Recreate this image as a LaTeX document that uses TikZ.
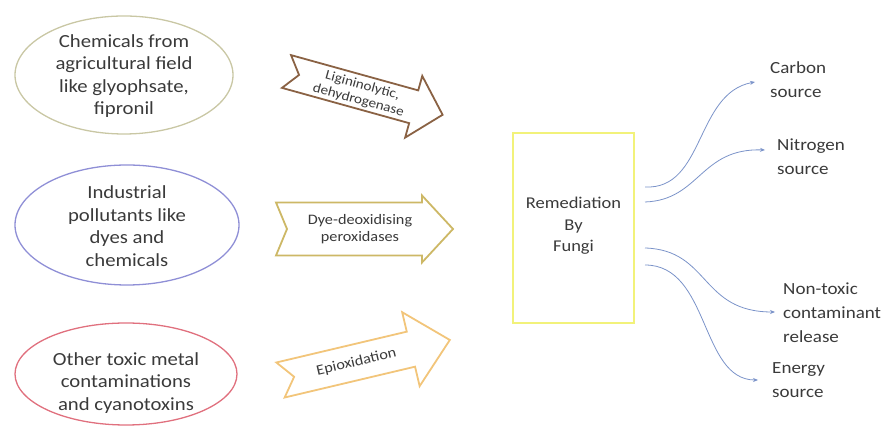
\documentclass[tikz,border=0pt]{standalone}
\usepackage{fontspec}
\setmainfont{Carlito}[FakeStretch=1.12]
\usetikzlibrary{shapes.geometric,arrows.meta,calc}

\definecolor{inkgray}{HTML}{3A3A3A}
\definecolor{khakiline}{HTML}{C9C7A4}
\definecolor{violetline}{HTML}{8F8FD6}
\definecolor{roseline}{HTML}{E0707E}
\definecolor{brownarrow}{HTML}{8A6244}
\definecolor{goldarrow}{HTML}{CDB866}
\definecolor{orangearrow}{HTML}{F2C57A}
\definecolor{yellowbox}{HTML}{F2F27A}
\definecolor{flowblue}{HTML}{7B93C9}

\tikzset{
  source/.style={ellipse, draw, line width=1.3pt, inner sep=0pt},
  sourcetext/.style={text=inkgray, align=center, font=\fontsize{18.5}{22.5}\selectfont},
  blockarrow/.style={line width=1.8pt, fill=white, line join=miter},
  enzymetext/.style={text=inkgray, align=center, font=\fontsize{14.5}{17}\selectfont},
  fungibox/.style={draw=yellowbox, line width=2.4pt, minimum width=121pt, minimum height=190pt},
  boxtext/.style={text=inkgray, align=center, font=\fontsize{16.5}{21.5}\selectfont},
  outcome/.style={text=inkgray, align=left, anchor=west, inner sep=0pt, font=\fontsize{17}{24}\selectfont},
  flow/.style={draw=flowblue, line width=0.8pt, -{Stealth[length=5pt,width=4pt]}}
}

\begin{document}
\begin{tikzpicture}[x=1pt,y=1pt]
\useasboundingbox (0,0) rectangle (885,438);

% pollutant sources
\node[source, draw=khakiline, minimum width=218pt, minimum height=118pt] (agri) at (124,363) {};
\node[sourcetext] (agritext) at (124,362) {Chemicals from\\agricultural field\\like glyophsate,\\fipronil};

\node[source, draw=violetline, minimum width=224pt, minimum height=120pt] (indus) at (127,213) {};
\node[sourcetext] (industext) at (127,212) {Industrial\\pollutants like\\dyes and\\chemicals};

\node[source, draw=roseline, minimum width=222pt, minimum height=102pt] (metal) at (126,64) {};
\node[sourcetext] (metaltext) at (126,55) {Other toxic metal\\contaminations\\and cyanotoxins};

% enzyme block arrows
\begin{scope}[shift={(286.5,366.5)}, rotate=-15.5]
  \draw[blockarrow, draw=brownarrow] (0,17) -- (132,17) -- (132,32) -- (162,0)
    -- (132,-32) -- (132,-17) -- (0,-17) -- (13,0) -- cycle;
  \node[enzymetext, font=\fontsize{13.5}{15.5}\selectfont, rotate=-15.5] (lignin) at (77,-1) {Ligininolytic,\\dehydrogenase};
\end{scope}

\begin{scope}[shift={(276,209)}]
  \draw[blockarrow, draw=goldarrow] (0,26.5) -- (146,26.5) -- (146,33.5) -- (177,0)
    -- (146,-33.5) -- (146,-26.5) -- (0,-26.5) -- (11,0) -- cycle;
  \node[enzymetext] (perox) at (84,0) {Dye-deoxidising\\peroxidases};
\end{scope}

\begin{scope}[shift={(280.5,58)}, rotate=13.3]
  \draw[blockarrow, draw=orangearrow] (0,18) -- (134,18) -- (134,38) -- (174,0)
    -- (134,-38) -- (134,-18) -- (0,-18) -- (14,0) -- cycle;
  \node[enzymetext, rotate=13.3] (epox) at (78,0) {Epioxidation};
\end{scope}

% central box
\node[fungibox] (fungi) at (573.5,210) {};
\node[boxtext] (fungitext) at (573.5,212) {Remediation\\By\\Fungi};

% outcomes
\node[outcome] (carbon) at (770,358.5) {Carbon\\source};
\node[outcome] (nitro) at (777,281.5) {Nitrogen\\source};
\node[outcome] (nontox) at (783,125) {Non-toxic\\contaminant\\release};
\node[outcome] (energy) at (772,57.5) {Energy\\source};

\coordinate (c1s) at (645,251);
\coordinate (c2s) at (645,236);
\coordinate (c3s) at (645,190);
\coordinate (c4s) at (645,173);
\coordinate (c1e) at (755,356);
\coordinate (c2e) at (765,288);
\coordinate (c3e) at (775,126);
\coordinate (c4e) at (758,58);

\draw[flow] (c1s) .. controls (705,248) and (695,345) .. (c1e);
\draw[flow] (c2s) .. controls (700,238) and (700,290) .. (c2e);
\draw[flow] (c3s) .. controls (710,188) and (700,126) .. (c3e);
\draw[flow] (c4s) .. controls (710,173) and (700,58) .. (c4e);
\end{tikzpicture}
\end{document}
